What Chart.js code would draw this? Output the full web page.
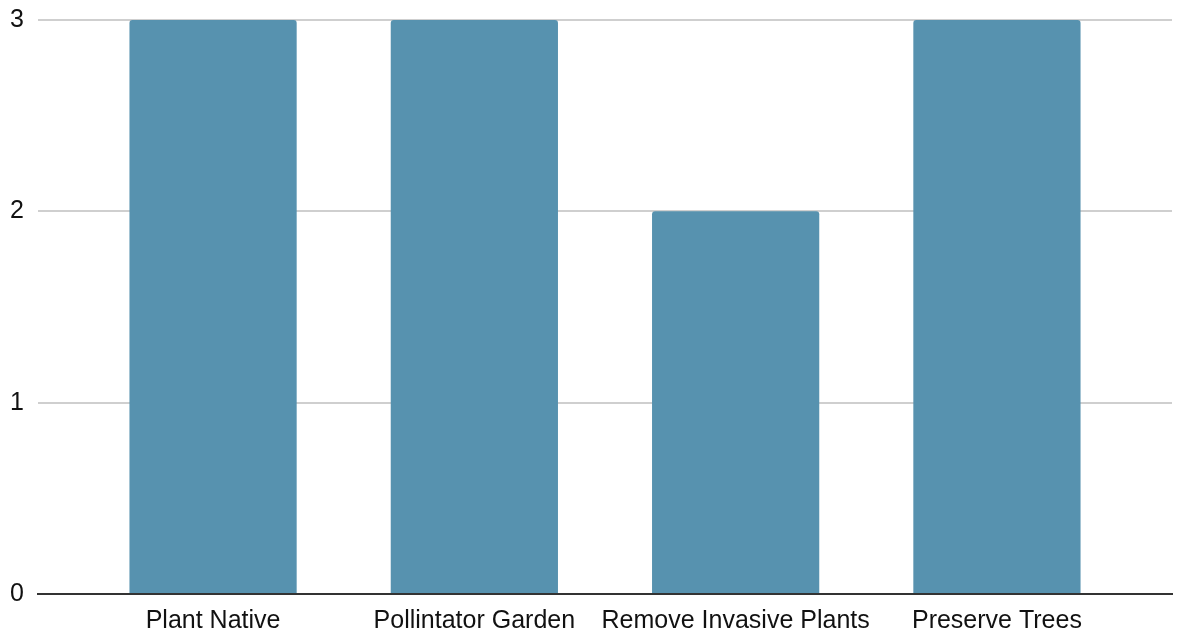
<!DOCTYPE html>
<html>
<head>
<meta charset="utf-8">
<script src="https://cdn.jsdelivr.net/npm/chart.js@4"></script>
<style>
  html, body { margin: 0; padding: 0; background: #fff; }
  canvas { display: block; }
</style>
</head>
<body>
<canvas id="c" width="1177" height="635"></canvas>
<script>
const categories = ["Plant Native", "Pollintator Garden", "Remove Invasive Plants", "Preserve Trees"];
const counts = [3, 3, 2, 3];
const yTicks = [0, 1, 2, 3];

const FONT = "'Liberation Sans', Arial, sans-serif";

new Chart(document.getElementById('c'), {
  type: 'bar',
  data: {
    datasets: [{
      data: counts.map((v, i) => ({ x: i, y: v })),
      backgroundColor: 'rgb(87,146,175)',
      borderRadius: 3,
      borderSkipped: 'start',
      barPercentage: 0.64,
      categoryPercentage: 1
    }]
  },
  options: {
    responsive: false,
    animation: false,
    layout: { padding: { top: 20, right: 5, left: 0, bottom: 0 } },
    plugins: { legend: { display: false }, tooltip: { enabled: false } },
    scales: {
      x: {
        type: 'linear',
        offset: false,
        min: -0.67,
        max: 3.67,
        z: 1,
        grid: { display: false, drawTicks: false },
        border: { display: true, color: '#333', width: 2 },
        afterBuildTicks: (s) => { s.ticks = categories.map((_, i) => ({ value: i })); },
        afterFit: (s) => { s.height = 41; s.paddingLeft = 0; s.paddingRight = 0; },
        ticks: {
          autoSkip: false,
          maxRotation: 0,
          padding: 12,
          color: '#111',
          font: { family: FONT, size: 25 },
          callback: (v) => categories[v]
        }
      },
      y: {
        min: 0,
        max: 3,
        grid: { color: '#cfcfcf', lineWidth: 2, drawTicks: false },
        border: { display: false },
        afterBuildTicks: (s) => { s.ticks = yTicks.map(v => ({ value: v })); },
        afterFit: (s) => { s.width = 38; s.paddingTop = 0; s.paddingBottom = 0; },
        ticks: {
          padding: 14,
          color: '#111',
          font: { family: FONT, size: 25 }
        }
      }
    }
  }
});
</script>
</body>
</html>
